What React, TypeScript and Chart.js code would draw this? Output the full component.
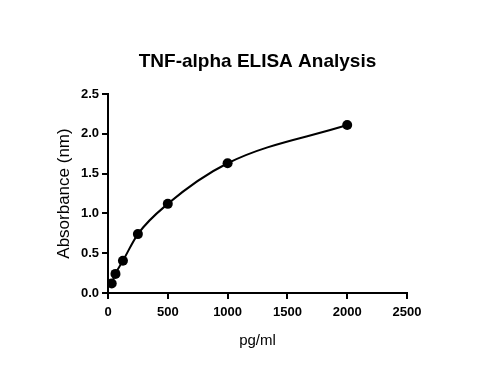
import React, { useEffect, useRef } from "react";
import { Chart, registerables } from "chart.js";

Chart.register(...registerables);

const concentrations = [31.25, 62.5, 125, 250, 500, 1000, 2000];
const absorbance = [0.12, 0.24, 0.405, 0.74, 1.12, 1.63, 2.11];
const xTicks = [0, 500, 1000, 1500, 2000, 2500];
const yTicks = [0, 0.5, 1.0, 1.5, 2.0, 2.5];
const chartTitle = "TNF-alpha ELISA Analysis";

const FONT = "'Liberation Sans', Arial, Helvetica, sans-serif";

const centeredTitle = {
  id: "centeredTitle",
  afterDraw(chart: any) {
    const { ctx, chartArea } = chart;
    ctx.save();
    ctx.font = `bold 19px ${FONT}`;
    ctx.fillStyle = "#000";
    ctx.textAlign = "center";
    ctx.textBaseline = "middle";
    ctx.fillText(chartTitle, (chartArea.left + chartArea.right) / 2, 62);
    ctx.restore();
  },
};

export default function App() {
  const ref = useRef<HTMLCanvasElement>(null);

  useEffect(() => {
    if (!ref.current) return;
    const chart = new Chart(ref.current, {
      type: "scatter",
      data: {
        datasets: [
          {
            data: concentrations.map((x, i) => ({ x, y: absorbance[i] })),
            showLine: true,
            borderColor: "#000",
            borderWidth: 2,
            cubicInterpolationMode: "monotone",
            pointRadius: 5,
            pointHoverRadius: 5,
            pointBackgroundColor: "#000",
            pointBorderColor: "#000",
            pointBorderWidth: 0,
          },
        ],
      },
      plugins: [centeredTitle],
      options: {
        responsive: false,
        animation: false,
        devicePixelRatio: 1,
        layout: { padding: { left: 0, right: 76, top: 94, bottom: 0 } },
        plugins: {
          legend: { display: false },
          tooltip: { enabled: false },
          title: { display: false },
        },
        scales: {
          x: {
            type: "linear",
            min: 0,
            max: 2500,
            afterBuildTicks: (s: any) => {
              s.ticks = xTicks.map((v) => ({ value: v }));
            },
            afterFit: (s: any) => {
              s.height = 72;
            },
            ticks: {
              color: "#000",
              font: { family: FONT, size: 13, weight: "bold" },
              padding: 6,
              maxRotation: 0,
              callback: (v: any) => String(v),
            },
            grid: {
              display: true,
              drawOnChartArea: false,
              drawTicks: true,
              tickLength: 6,
              color: "#000",
              lineWidth: 2,
            },
            border: { display: true, color: "#000", width: 2 },
            title: {
              display: true,
              text: "pg/ml",
              color: "#000",
              font: { family: FONT, size: 15 },
              padding: { top: 0, bottom: 15 },
            },
          },
          y: {
            type: "linear",
            min: 0,
            max: 2.5,
            afterBuildTicks: (s: any) => {
              s.ticks = yTicks.map((v) => ({ value: v }));
            },
            afterFit: (s: any) => {
              s.width = 108;
            },
            ticks: {
              color: "#000",
              font: { family: FONT, size: 13, weight: "bold" },
              padding: 3,
              callback: (v: any) => Number(v).toFixed(1),
            },
            grid: {
              display: true,
              drawOnChartArea: false,
              drawTicks: true,
              tickLength: 6,
              color: "#000",
              lineWidth: 2,
            },
            border: { display: true, color: "#000", width: 2 },
            title: {
              display: true,
              text: "Absorbance (nm)",
              color: "#000",
              font: { family: FONT, size: 17 },
              padding: { top: 54, bottom: 0 },
            },
          },
        },
      },
    });
    return () => chart.destroy();
  }, []);

  return (
    <div style={{ position: "absolute", left: 0, top: 0, width: 483, height: 365, background: "#fff" }}>
      <canvas ref={ref} width={483} height={365} style={{ display: "block" }} />
    </div>
  );
}
